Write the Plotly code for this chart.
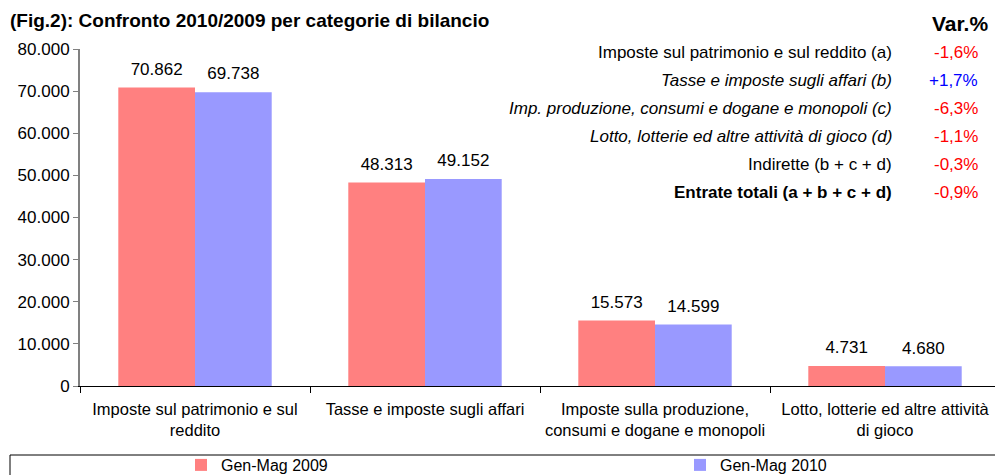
import plotly.graph_objects as go

categories = [
    "Imposte sul patrimonio e sul<br>reddito",
    "Tasse e imposte sugli affari",
    "Imposte sulla produzione,<br>consumi e dogane e monopoli",
    "Lotto, lotterie ed altre attività<br>di gioco",
]
values_2009 = [70862, 48313, 15573, 4731]
values_2010 = [69738, 49152, 14599, 4680]
series_names = ["Gen-Mag 2009", "Gen-Mag 2010"]

var_labels = [
    "Imposte sul patrimonio e sul reddito (a)",
    "<i>Tasse e imposte sugli affari (b)</i>",
    "<i>Imp. produzione, consumi e dogane e monopoli (c)</i>",
    "<i>Lotto, lotterie ed altre attività di gioco (d)</i>",
    "Indirette (b + c + d)",
    "<b>Entrate totali (a + b + c + d)</b>",
]
var_values = ["-1,6%", "+1,7%", "-6,3%", "-1,1%", "-0,3%", "-0,9%"]
var_colors = ["#FF0000", "#0000FF", "#FF0000", "#FF0000", "#FF0000", "#FF0000"]

FONT = "Liberation Sans, Arial, sans-serif"
RED, BLUE = "#FF8080", "#9999FF"

# the page body has an 8px margin, so the figure sits at (8, 8)
OFF = 8
W, H = 1003 - OFF, 475 - OFF
L, R, T, B = 80 - OFF, 3, 49 - OFF, 89
PW = W - L - R
PH = H - T - B


def fmt(v):
    return f"{v:,}".replace(",", ".")


def px_x(x):
    return (x - OFF - L) / PW


def px_y(y):
    return (H - B - (y - OFF)) / PH


fig = go.Figure()
for name, vals, col, lg in [(series_names[0], values_2009, RED, "legend"),
                            (series_names[1], values_2010, BLUE, "legend2")]:
    fig.add_trace(go.Bar(
        x=categories, y=vals, name=name, offsetgroup=name, legend=lg,
        marker=dict(color=col, line=dict(width=0)), hoverinfo="y",
    ))
# value labels, lifted a little above the bar tops as in the original
for name, vals in [(series_names[0], values_2009), (series_names[1], values_2010)]:
    fig.add_trace(go.Scatter(
        x=categories, y=vals, offsetgroup=name, mode="markers+text",
        marker=dict(size=12, opacity=0), text=[fmt(v) for v in vals],
        textposition="top center", textfont=dict(size=17, color="#000000"),
        showlegend=False, hoverinfo="skip", cliponaxis=False,
    ))

annotations = [
    dict(text="<b>(Fig.2): Confronto 2010/2009 per categorie di bilancio</b>",
         xref="paper", yref="paper", x=px_x(8), y=px_y(20), xanchor="left", yanchor="middle",
         showarrow=False, font=dict(size=19, color="#000000")),
    dict(text="<b>Var.%</b>", xref="paper", yref="paper", x=px_x(990), y=px_y(23),
         xanchor="right", yanchor="middle", showarrow=False,
         font=dict(size=21, color="#000000")),
]
for i, (lab, val, col) in enumerate(zip(var_labels, var_values, var_colors)):
    yp = px_y(53 + i * 27.8)
    annotations.append(dict(text=lab, xref="paper", yref="paper", x=px_x(894), y=yp,
                            xanchor="right", yanchor="middle", showarrow=False,
                            font=dict(size=17, color="#000000")))
    annotations.append(dict(text=val, xref="paper", yref="paper", x=px_x(980), y=yp,
                            xanchor="right", yanchor="middle", showarrow=False,
                            font=dict(size=17, color=col)))

legend_common = dict(orientation="h", xref="container", yref="container",
                     xanchor="left", yanchor="middle", y=(H - (465 - OFF)) / H,
                     font=dict(size=16), itemwidth=30, bgcolor="rgba(0,0,0,0)")

fig.update_layout(
    width=W, height=H,
    margin=dict(l=L, r=R, t=T, b=B, autoexpand=False),
    paper_bgcolor="white", plot_bgcolor="white",
    font=dict(family=FONT, size=17, color="#000000"),
    separators=",.",
    barmode="group", bargap=0.333, bargroupgap=0,
    scattermode="group", scattergap=0.333,
    showlegend=True,
    legend=dict(x=(181 - OFF) / W, **legend_common),
    legend2=dict(x=(680 - OFF) / W, **legend_common),
    annotations=annotations,
    shapes=[dict(type="rect", xref="paper", yref="paper",
                 x0=px_x(10), x1=px_x(999), y0=px_y(455), y1=px_y(480),
                 line=dict(color="#000000", width=1))],
    xaxis=dict(showline=True, linecolor="#000000", linewidth=1, ticks="outside",
               tickson="boundaries", ticklen=6, tickcolor="#000000", tickangle=0,
               ticklabelstandoff=8, tickfont=dict(size=16.5), showgrid=False),
    yaxis=dict(range=[0, 80000], dtick=10000, tickformat=",d", showline=True,
               linecolor="#808080", linewidth=2, ticks="outside", ticklen=5,
               tickcolor="#808080", tickfont=dict(size=17), showgrid=False,
               zeroline=False),
)

fig.write_html("out.html")
